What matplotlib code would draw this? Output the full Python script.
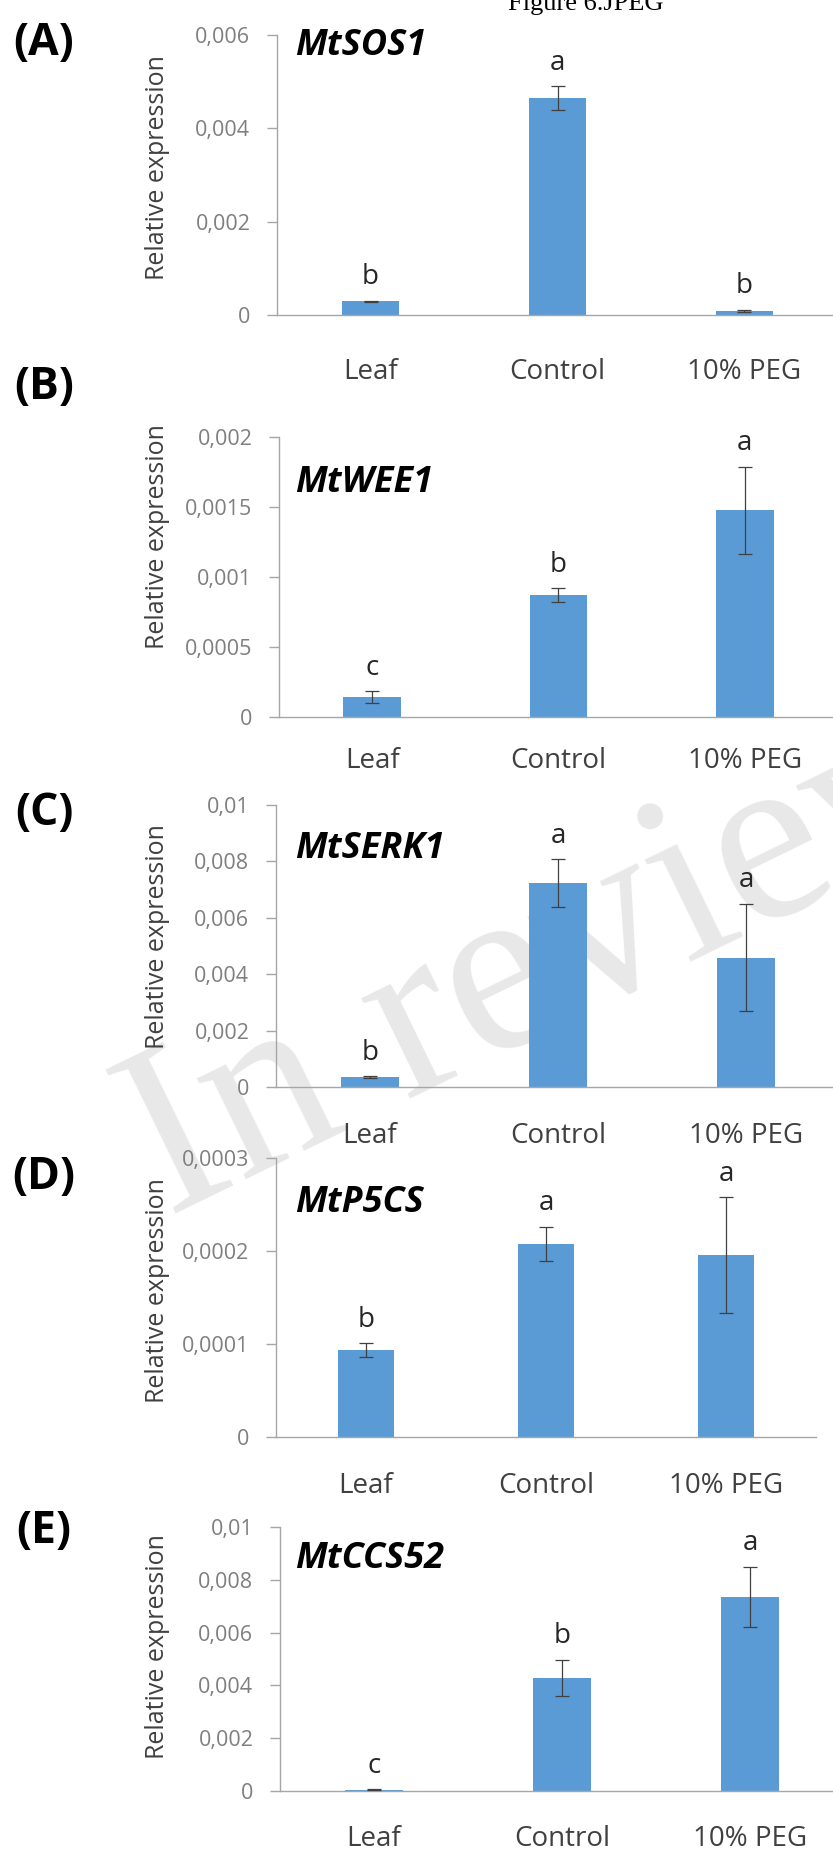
import matplotlib
matplotlib.use("Agg")
import matplotlib.pyplot as plt
from matplotlib.ticker import FuncFormatter, MultipleLocator
import numpy as np

# ---------------- data ----------------
categories = ["Leaf", "Control", "10% PEG"]
genes = ["MtSOS1", "MtWEE1", "MtSERK1", "MtP5CS", "MtCCS52"]
panel_tags = ["(A)", "(B)", "(C)", "(D)", "(E)"]

sos1_mean = [0.00029, 0.00465, 0.00009]
sos1_err = [0.00002, 0.00025, 0.00002]
sos1_letters = ["b", "a", "b"]

wee1_mean = [0.000143, 0.000869, 0.001476]
wee1_err = [0.00004, 0.00005, 0.00031]
wee1_letters = ["c", "b", "a"]

serk1_mean = [0.00035, 0.00722, 0.00459]
serk1_err = [0.00003, 0.00085, 0.0019]
serk1_letters = ["b", "a", "a"]

p5cs_mean = [0.0000934, 0.0002077, 0.0001958]
p5cs_err = [0.0000072, 0.0000185, 0.000062]
p5cs_letters = ["b", "a", "a"]

ccs52_mean = [0.00005, 0.00428, 0.00735]
ccs52_err = [0.00001, 0.0007, 0.00114]
ccs52_letters = ["c", "b", "a"]

y_max = [0.006, 0.002, 0.01, 0.0003, 0.01]
y_step = [0.002, 0.0005, 0.002, 0.0001, 0.002]

means = [sos1_mean, wee1_mean, serk1_mean, p5cs_mean, ccs52_mean]
errs = [sos1_err, wee1_err, serk1_err, p5cs_err, ccs52_err]
letters = [sos1_letters, wee1_letters, serk1_letters, p5cs_letters, ccs52_letters]

# ---------------- layout (pixels in image coords) ----------------
W, H = 833, 1859
# left, top, right, zero-line
rects = [(277, 35, 838, 315),
         (279, 437, 838, 717),
         (276, 805, 840, 1087),
         (276, 1158, 816, 1437),
         (280, 1527, 844, 1791)]
xlabel_pad_px = [43, 30, 35, 35, 34]
ylabel_y = [168, 537, 937, 1291, 1647]
tag_y = [43, 387, 813, 1177, 1531]
gene_baseline = [55, 492, 858, 1212, 1568]

BAR = "#5B9BD5"
SPINE = "#A6A6A6"
TICKLAB = "#7F7F7F"
DARK = "#404040"
FONT = ["Open Sans", "DejaVu Sans"]

plt.rcParams["font.family"] = FONT

fig = plt.figure(figsize=(W / 100, H / 100), dpi=100)


def fmt(v, pos):
    s = f"{v:.4f}".rstrip("0").rstrip(".")
    return s.replace(".", ",")


# watermark behind everything
fig.text(168 / W, 1 - 1217 / H, "In review", fontsize=176,
         family="Liberation Serif", color="#E8E8E8", rotation=26,
         rotation_mode="anchor", ha="left", va="baseline", zorder=-1)

fig.text(586 / W, 1 - 10 / H, "Figure 6.JPEG", fontsize=19,
         family="Liberation Serif", color="black", ha="center", va="baseline")

x = np.arange(len(categories))
for i in range(5):
    l, t, r, z = rects[i]
    ax = fig.add_axes([l / W, 1 - z / H, (r - l) / W, (z - t) / H])
    ax.set_facecolor("none")
    ax.bar(x, means[i], width=0.31, color=BAR, zorder=2)
    ax.errorbar(x, means[i], yerr=errs[i], fmt="none", ecolor=DARK,
                elinewidth=0.9, capsize=5, capthick=0.9, zorder=3)
    ax.set_xlim(-0.5, 2.5)
    ax.set_ylim(0, y_max[i])
    ax.yaxis.set_major_locator(MultipleLocator(y_step[i]))
    ax.yaxis.set_major_formatter(FuncFormatter(fmt))
    ax.set_xticks(x)
    ax.set_xticklabels(categories)
    for s in ("top", "right"):
        ax.spines[s].set_visible(False)
    for s in ("left", "bottom"):
        ax.spines[s].set_color(SPINE)
        ax.spines[s].set_linewidth(1.0)
    ax.tick_params(axis="x", length=0, pad=xlabel_pad_px[i] * 0.72,
                   labelsize=20, labelcolor=DARK)
    ax.tick_params(axis="y", length=7.2, width=1.0, color=SPINE, pad=12,
                   labelsize=15.5, labelcolor=TICKLAB)
    for xi, m, e, lab in zip(x, means[i], errs[i], letters[i]):
        ax.annotate(lab, (xi, m + e), xytext=(0, 12), textcoords="offset points",
                    ha="center", va="baseline", fontsize=20, color="#262626")

    fig.text(295 / W, 1 - gene_baseline[i] / H, genes[i], fontsize=26,
             fontweight="bold", fontstyle="italic", ha="left", va="baseline",
             color="black")
    fig.text(44 / W, 1 - tag_y[i] / H, panel_tags[i], fontsize=32,
             fontweight="bold", ha="center", va="center", color="black")
    fig.text(158 / W, 1 - ylabel_y[i] / H, "Relative expression", rotation=90,
             fontsize=18, ha="center", va="center", color=DARK)

fig.savefig("out.png", dpi=100)
